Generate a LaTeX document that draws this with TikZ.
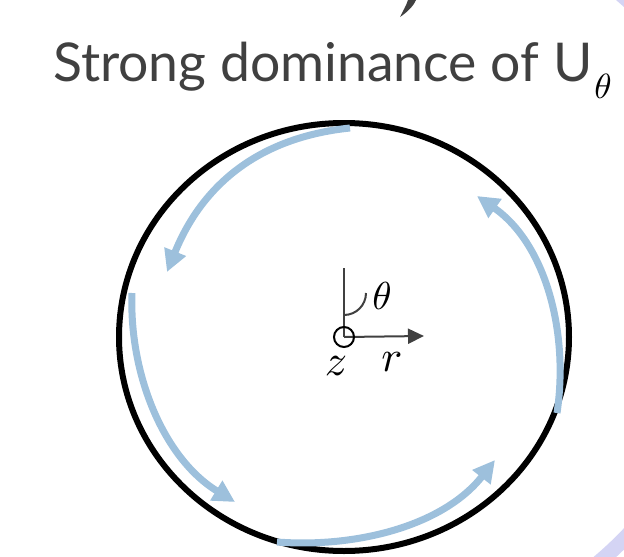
\documentclass[tikz,border=0pt]{standalone}
\usepackage{fontspec}
\setmainfont{Lato}
\usetikzlibrary{arrows.meta}
\definecolor{flow}{RGB}{157,192,220}
\definecolor{axisgray}{RGB}{64,64,64}
\definecolor{titlegray}{RGB}{64,64,64}
\definecolor{lav}{RGB}{212,212,244}
\tikzset{
  flowarrow/.style={draw=flow, line width=7pt, -{Triangle[length=22pt,width=22pt]}},
  mathlabel/.style={inner sep=0pt, scale=3.9},
  smalllabel/.style={inner sep=0pt, scale=4.4},
}
\begin{document}
\begin{tikzpicture}[x=1pt,y=-1pt]
\useasboundingbox (0,0) rectangle (624,557);
% decorative corners
\begin{scope}
  \clip (580,557) -- (624,557) -- (624,515) -- cycle;
  \draw[lav, line width=15pt] (353.5,272.5) circle [radius=379.7];
\end{scope}
\fill[lav] (616,0) -- (624,0) -- (624,7) -- cycle;
% fragment of a glyph at the top
\fill[titlegray] (408,0) -- (416,0) .. controls (413,7) and (406,13) .. (400,17) .. controls (403,11) and (406,6) .. cycle;
% title
\node[anchor=base west, inner sep=0pt, text=titlegray, font=\fontsize{53.5}{60}\selectfont] (title) at (53,81) {Strong dominance of U};
\node[inner sep=0pt, scale=3.5] (tsub) at (603,86) {$\theta$};
% main circle
\coordinate (O) at (344,337);
\draw[line width=6pt] (O) ellipse [x radius=225, y radius=214];
% axes
\coordinate (up) at (344,268);
\coordinate (rt) at (424,336);
\draw[axisgray, line width=2pt] (O) -- (up);
\draw[axisgray, line width=2pt, -{Triangle[length=16pt,width=15pt]}] (O) -- (rt);
\draw[axisgray, line width=2pt] (344,315) arc [start angle=90, end angle=0, radius=22];
\node[draw=black, line width=2pt, circle, minimum size=20pt, inner sep=0pt] (zc) at (O) {};
\node[mathlabel] (th) at (382,296) {$\theta$};
\node[smalllabel] (zl) at (336,366) {$z$};
\node[smalllabel] (rl) at (392,362) {$r$};
% flow arrows
\coordinate (a1s) at (350,128); \coordinate (a1e) at (167,272);
\coordinate (a2s) at (132,293); \coordinate (a2e) at (235,502);
\coordinate (a3s) at (277,542); \coordinate (a3e) at (495,460);
\coordinate (a4s) at (557,413); \coordinate (a4e) at (477,196);
\draw[flowarrow] (a1s) .. controls (235,140) and (192,210) .. (a1e);
\draw[flowarrow] (a2s) .. controls (129,373) and (163,458) .. (a2e);
\draw[flowarrow] (a3s) .. controls (356,548) and (443,526) .. (a3e);
\draw[flowarrow] (a4s) .. controls (569,333) and (546,244) .. (a4e);
\end{tikzpicture}
\end{document}
